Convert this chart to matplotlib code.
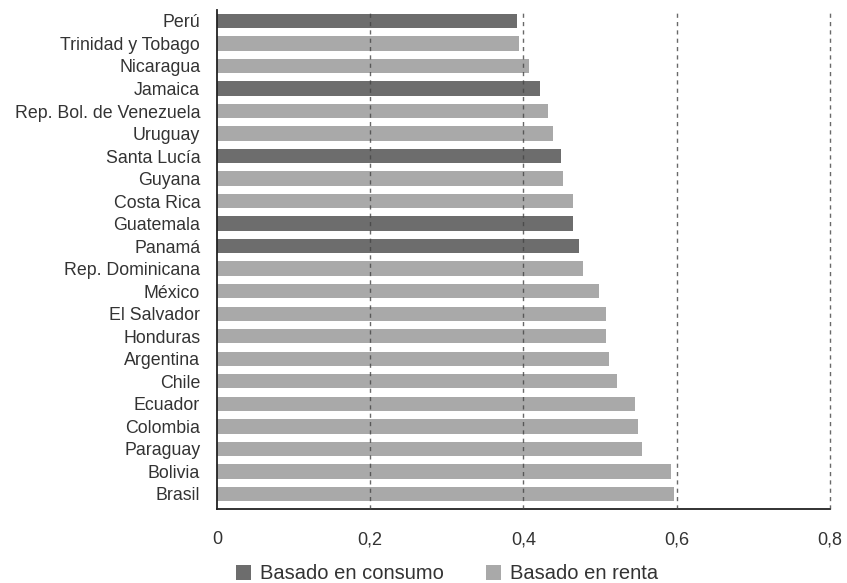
# Coeficiente de Gini por país, América Latina y el Caribe

import matplotlib.pyplot as plt
from matplotlib.patches import Patch
from matplotlib.ticker import FuncFormatter

plt.rcParams['font.family'] = ['Liberation Sans', 'DejaVu Sans']

# Datos
paises = [
    "Perú", "Trinidad y Tobago", "Nicaragua", "Jamaica",
    "Rep. Bol. de Venezuela", "Uruguay", "Santa Lucía", "Guyana",
    "Costa Rica", "Guatemala", "Panamá", "Rep. Dominicana", "México",
    "El Salvador", "Honduras", "Argentina", "Chile", "Ecuador",
    "Colombia", "Paraguay", "Bolivia", "Brasil",
]
valores = [
    0.391, 0.394, 0.407, 0.421, 0.432, 0.438, 0.449, 0.451,
    0.464, 0.465, 0.473, 0.478, 0.498, 0.508, 0.508, 0.511,
    0.522, 0.546, 0.549, 0.555, 0.592, 0.596,
]
# "consumo" o "renta"
tipo = [
    "consumo", "renta", "renta", "consumo", "renta", "renta", "consumo",
    "renta", "renta", "consumo", "consumo", "renta", "renta", "renta",
    "renta", "renta", "renta", "renta", "renta", "renta", "renta", "renta",
]
ticks_x = [0, 0.2, 0.4, 0.6, 0.8]

color_consumo = "#6d6d6d"
color_renta = "#a9a9a9"
colores = [color_consumo if t == "consumo" else color_renta for t in tipo]

fig = plt.figure(figsize=(8.47, 5.83), dpi=100)
ax = fig.add_axes([0.256, 0.127, 0.724, 0.856])

pos = list(range(len(paises)))
ax.barh(pos, valores, height=0.64, color=colores, zorder=2)

# Líneas verticales discontinuas
for t in ticks_x[1:]:
    ax.axvline(t, color="#444444", linestyle=(0, (3, 3)), linewidth=1.0,
               zorder=3, alpha=0.8, clip_on=False)

ax.set_xlim(0, 0.8)
ax.set_ylim(len(paises) - 0.33, -0.49)
ax.set_yticks(pos)
ax.set_yticklabels(paises, fontsize=12.8, color="#333333")
ax.set_xticks(ticks_x)
ax.xaxis.set_major_formatter(FuncFormatter(lambda v, p: "0" if v == 0 else f"{v:.1f}".replace(".", ",")))
ax.tick_params(axis="x", length=0, pad=16, labelsize=13, labelcolor="#333333")
ax.tick_params(axis="y", length=0, pad=12)

for s in ["top", "right"]:
    ax.spines[s].set_visible(False)
ax.spines["left"].set_color("#222222")
ax.spines["bottom"].set_color("#222222")
ax.spines["left"].set_linewidth(1.3)
ax.spines["bottom"].set_linewidth(1.3)

# Leyenda
handles = [
    Patch(facecolor=color_consumo, label="Basado en consumo"),
    Patch(facecolor=color_renta, label="Basado en renta"),
]
fig.legend(handles=handles, loc="center", bbox_to_anchor=(0.528, 0.016), ncol=2,
           frameon=False, fontsize=14.5, handlelength=0.75, handleheight=0.75,
           handletextpad=0.45, columnspacing=2.1, labelcolor="#333333",
           borderpad=0)

plt.savefig("out.png", dpi=100)
